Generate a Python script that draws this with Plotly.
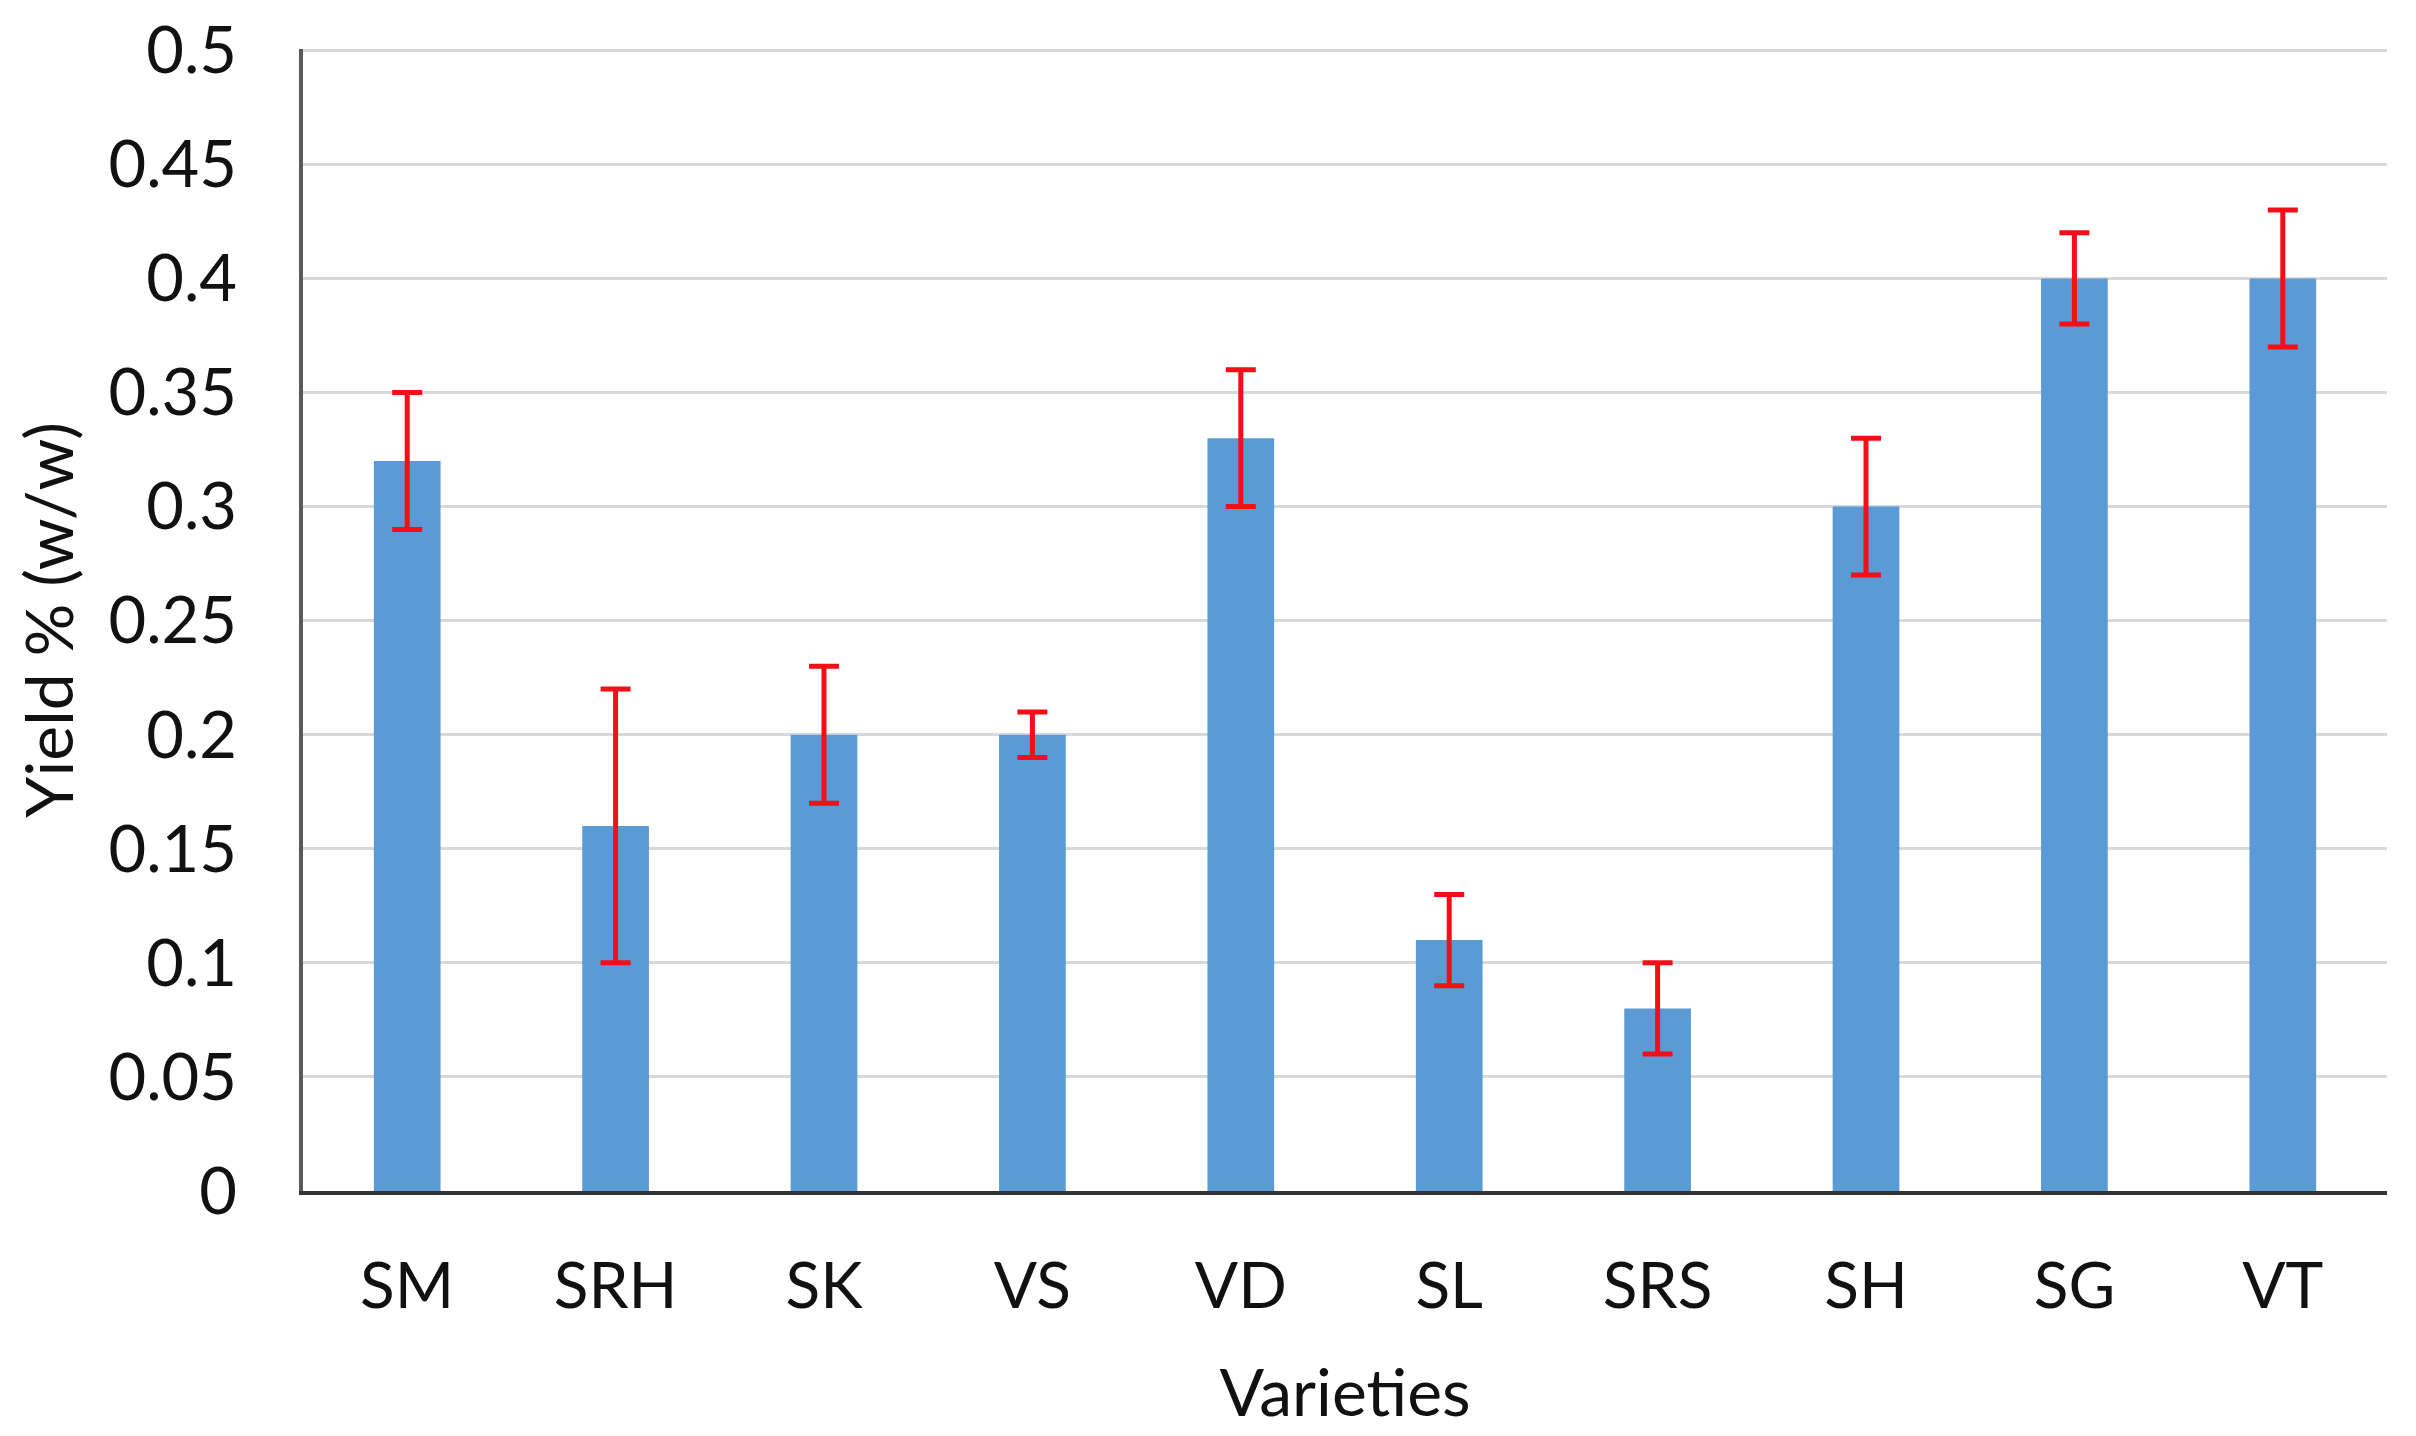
import plotly.graph_objects as go

varieties = ["SM", "SRH", "SK", "VS", "VD", "SL", "SRS", "SH", "SG", "VT"]
yield_pct = [0.32, 0.16, 0.20, 0.20, 0.33, 0.11, 0.08, 0.30, 0.40, 0.40]
err = [0.03, 0.06, 0.03, 0.01, 0.03, 0.02, 0.02, 0.03, 0.02, 0.03]
y_ticks = [0, 0.05, 0.1, 0.15, 0.2, 0.25, 0.3, 0.35, 0.4, 0.45, 0.5]
y_tick_text = ["0", "0.05", "0.1", "0.15", "0.2", "0.25", "0.3", "0.35", "0.4", "0.45", "0.5"]

FONT = "Lato"

fig = go.Figure(
    go.Bar(
        x=varieties,
        y=yield_pct,
        marker=dict(color="#5B9BD5", line=dict(width=0)),
        error_y=dict(type="data", array=err, visible=True, color="#F20F17",
                     thickness=5, width=15),
        width=0.32,
    )
)

fig.update_layout(
    width=2416, height=1436,
    margin=dict(l=295, r=37, t=41, b=253, autoexpand=False),
    paper_bgcolor="white", plot_bgcolor="white",
    showlegend=False,
    font=dict(family=FONT, size=64, color="#111111"),
)

fig.update_xaxes(
    range=[-0.5, 9.5],
    showline=True, linecolor="#333333", linewidth=4,
    showgrid=False, ticks="", ticklabelstandoff=36,
    tickfont=dict(size=64), automargin=False,
    title=dict(text="Varieties", font=dict(size=66), standoff=50),
)
fig.update_yaxes(
    range=[0, 0.5006],
    tickvals=y_ticks, ticktext=y_tick_text,
    showline=True, linecolor="#595959", linewidth=4,
    showgrid=True, gridcolor="#D9D9D9", gridwidth=3,
    zeroline=False, ticks="", ticklabelstandoff=49,
    ticklabeloverflow="allow", automargin=False,
    tickfont=dict(size=65),
    title=dict(text="Yield % (w/w)", font=dict(size=66), standoff=22),
)

fig.write_html("out.html")
